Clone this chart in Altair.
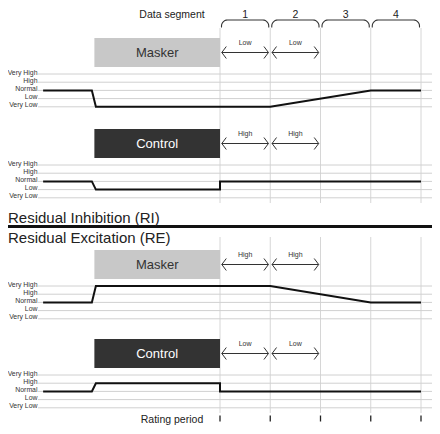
import altair as alt
import numpy as np
import pandas as pd

# ---------------- data ----------------
level_names = ["Very High", "High", "Normal", "Low", "Very Low"]
level_values = [4, 3, 2, 1, 0]
segments = ["1", "2", "3", "4"]
rating_times = [0, 1, 2, 3, 4]
panel_kind = ["Masker", "Control", "Masker", "Control"]
arrow_text = [["Low", "Low"], ["High", "High"], ["High", "High"], ["Low", "Low"]]
stimulus_start = -2.5
stimulus_end = 0.0
signal_t = [
    [-3.52, -2.55, -2.47, 1.0, 3.0, 4.0],
    [-3.52, -2.55, -2.47, 0.0, 0.0, 4.0],
    [-3.52, -2.55, -2.47, 1.0, 3.0, 4.0],
    [-3.52, -2.55, -2.47, 0.0, 0.0, 4.0],
]
signal_level = [
    [2, 2, 0, 0, 2, 2],
    [2, 2, 1, 1, 2, 2],
    [2, 2, 4, 4, 2, 2],
    [2, 2, 3, 3, 2, 2],
]
section_titles = ["Residual Inhibition (RI)", "Residual Excitation (RE)"]

# ---------------- layout ----------------
W, H = 424, 418
T0, PX = 212.0, 50.25
panel_top = [66, 157, 278, 367]
STEP = 8.2
FONT = "Liberation Sans"
box_fill = {"Masker": "#c8c8c8", "Control": "#333333"}
box_text = {"Masker": "#333333", "Control": "#ffffff"}


def lvl_y(p, v):
    return panel_top[p] + (4 - v) * STEP


def pxt(d):
    return d / PX


xs = alt.Scale(domain=[-T0 / PX, (W - T0) / PX], nice=False, zero=False)
ys = alt.Scale(domain=[0, H], reverse=True, nice=False, zero=False)


def X(f):
    return alt.X(f, type="quantitative", scale=xs, axis=None)


def X2(f):
    return alt.X2(f)


def Y(f):
    return alt.Y(f, type="quantitative", scale=ys, axis=None)


layers = []

# vertical grey segment boundaries
vrows = []
for t in rating_times:
    for (a, b) in [(20, 195), (229, 405)]:
        vrows.append({"t": t, "y1": a, "y2": b})
layers.append(
    alt.Chart(pd.DataFrame(vrows)).mark_rule(color="#d6d6d6", strokeWidth=1)
    .encode(x=X("t"), y=Y("y1"), y2=alt.Y2("y2"))
)

# level lines and labels
lrows = []
for p in range(4):
    for n, v in zip(level_names, level_values):
        lrows.append({"p": p, "name": n, "y": lvl_y(p, v)})
ldf = pd.DataFrame(lrows)
layers.append(
    alt.Chart(ldf).mark_rule(color="#d0d0d0", strokeWidth=1)
    .encode(x=alt.value(30), x2=alt.value(W), y=Y("y"))
)
layers.append(
    alt.Chart(ldf).mark_text(align="right", baseline="middle", dy=-1.5, fontSize=6.9,
                             font=FONT, color="#333333")
    .encode(x=alt.value(29.5), y=Y("y"), text="name:N")
)

# stimulus boxes
brows = []
for p, k in enumerate(panel_kind):
    brows.append({"k": k, "t0": stimulus_start, "t1": stimulus_end,
                  "ytop": panel_top[p] - 36, "ybot": panel_top[p] - 7,
                  "ym": panel_top[p] - 21.5, "tm": (stimulus_start + stimulus_end) / 2,
                  "fill": box_fill[k], "tc": box_text[k]})
bdf = pd.DataFrame(brows)
layers.append(
    alt.Chart(bdf).mark_rect()
    .encode(x=X("t0"), x2=X2("t1"), y=Y("ytop"), y2=alt.Y2("ybot"),
            color=alt.Color("fill:N", scale=None))
)
layers.append(
    alt.Chart(bdf).mark_text(fontSize=13, font=FONT, baseline="middle")
    .encode(x=X("tm"), y=Y("ym"), text="k:N", color=alt.Color("tc:N", scale=None))
)

# arrows
arows, hrows, trows = [], [], []
for p in range(4):
    ya = panel_top[p] - 21.5
    for s, lab in enumerate(arrow_text[p]):
        a0 = s + pxt(1.8)
        a1 = s + 1 - pxt(1.8)
        arows.append({"t0": a0, "t1": a1, "y": ya})
        trows.append({"t": s + 0.5, "y": ya - 9.5, "lab": lab})
        for side, xa, sgn in [("l", a0, 1), ("r", a1, -1)]:
            gid = f"{p}-{s}-{side}"
            hrows += [
                {"g": gid, "o": 0, "t": xa + sgn * pxt(4.5), "y": ya - 6},
                {"g": gid, "o": 1, "t": xa, "y": ya},
                {"g": gid, "o": 2, "t": xa + sgn * pxt(4.5), "y": ya + 6},
            ]
layers.append(
    alt.Chart(pd.DataFrame(arows)).mark_rule(color="#333333", strokeWidth=1)
    .encode(x=X("t0"), x2=X2("t1"), y=Y("y"))
)
layers.append(
    alt.Chart(pd.DataFrame(hrows)).mark_line(color="#333333", strokeWidth=1)
    .encode(x=X("t"), y=Y("y"), detail="g:N", order="o:Q")
)
layers.append(
    alt.Chart(pd.DataFrame(trows)).mark_text(fontSize=7, font=FONT, color="#333333",
                                             baseline="middle")
    .encode(x=X("t"), y=Y("y"), text="lab:N")
)

# signal traces
srows = []
for p in range(4):
    for i, (t, v) in enumerate(zip(signal_t[p], signal_level[p])):
        srows.append({"p": p, "o": i, "t": t, "y": lvl_y(p, v)})
layers.append(
    alt.Chart(pd.DataFrame(srows)).mark_line(color="#111111", strokeWidth=2,
                                             strokeJoin="miter", strokeCap="butt")
    .encode(x=X("t"), y=Y("y"), detail="p:N", order="o:Q")
)

# braces over data segments
yb, ytop, r = 19.5, 12.0, 6.0
angles = np.linspace(0, np.pi / 2, 8)
crows = []
for s, seg in enumerate(segments):
    x0 = s + pxt(1.5)
    x1 = s + 1 - pxt(1.5)
    pts = [(x0, yb)]
    cx, cy = x0 + pxt(r), ytop + r
    pts += [(cx - pxt(r) * np.cos(a), cy - r * np.sin(a)) for a in angles]
    cx2 = x1 - pxt(r)
    pts += [(cx2 + pxt(r) * np.sin(a), cy - r * np.cos(a)) for a in angles]
    pts.append((x1, yb))
    for i, (tx, ty) in enumerate(pts):
        crows.append({"g": seg, "o": i, "t": tx, "y": ty})
layers.append(
    alt.Chart(pd.DataFrame(crows)).mark_line(color="#333333", strokeWidth=1.1)
    .encode(x=X("t"), y=Y("y"), detail="g:N", order="o:Q")
)
layers.append(
    alt.Chart(pd.DataFrame({"t": [s + 0.5 for s in range(4)], "y": [10.0] * 4,
                            "lab": segments}))
    .mark_text(fontSize=10.5, font=FONT, color="#222222", baseline="alphabetic")
    .encode(x=X("t"), y=Y("y"), text="lab:N")
)

# rating period ticks
layers.append(
    alt.Chart(pd.DataFrame({"t": rating_times, "y1": [407.5] * 5, "y2": [413.5] * 5}))
    .mark_rule(color="#222222", strokeWidth=1.3)
    .encode(x=X("t"), y=Y("y1"), y2=alt.Y2("y2"))
)

# header / footer labels
layers.append(
    alt.Chart(pd.DataFrame({"lab": ["Data segment", "Rating period"], "y": [10.0, 415]}))
    .mark_text(fontSize=10.5, font=FONT, color="#222222", baseline="alphabetic")
    .encode(x=alt.value(164), y=Y("y"), text="lab:N")
)

# divider and section titles
layers.append(
    alt.Chart(pd.DataFrame({"y": [218.5]})).mark_rule(color="#111111", strokeWidth=3)
    .encode(x=alt.value(0), x2=alt.value(W), y=Y("y"))
)
layers.append(
    alt.Chart(pd.DataFrame({"lab": section_titles, "y": [209.5, 229.5]}))
    .mark_text(fontSize=15, font=FONT, color="#222222", align="left", baseline="middle")
    .encode(x=alt.value(0), y=Y("y"), text="lab:N")
)

chart = alt.layer(*layers).properties(
    width=W, height=H, padding=0, autosize=alt.AutoSizeParams(type="none")
).configure_view(strokeWidth=0)

chart.save("out.html", embed_options={"renderer": "svg", "actions": False})
